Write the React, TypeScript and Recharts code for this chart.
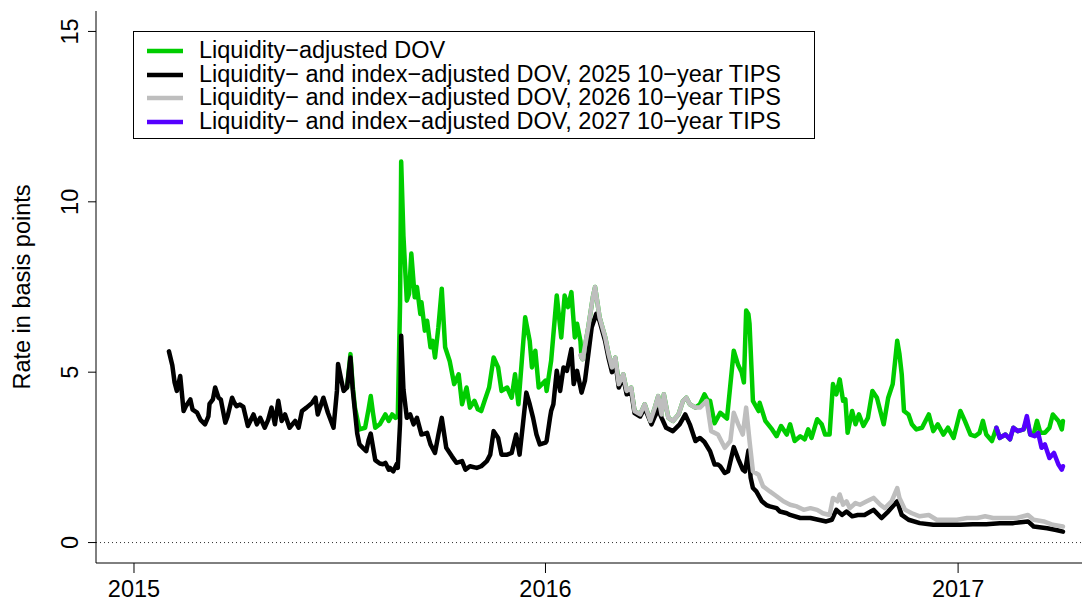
import React from 'react';
import { LineChart, Line, XAxis, YAxis, ReferenceLine } from 'recharts';

// Days since 1 Jan 2015 and rates in basis points, one pair of arrays per series.
const greenDays = [
  189, 192, 194, 196, 200, 205, 208, 210, 212, 214, 218, 223, 226, 229, 232, 234, 236, 237, 239, 242,
  244, 246, 249, 251, 254, 255, 258, 260, 263, 265, 267, 270, 273, 276, 280, 284, 288, 291, 295, 298,
  302, 305, 308, 311, 315, 319, 323, 326, 331, 335, 338, 341, 344, 347, 351, 353, 356, 359, 365, 366,
  370, 375, 379, 382, 385, 388, 391, 393, 396, 397, 398, 403, 407, 409, 413, 418, 421, 424, 427, 430,
  434, 437, 441, 444, 449, 453, 458, 462, 465, 468, 470, 474, 478, 483, 487, 490, 493, 498, 502, 506,
  509, 511, 515, 520, 526, 532, 536, 539, 541, 543, 545, 546, 549, 554, 555, 560, 566, 570, 574, 579,
  582, 586, 591, 595, 598, 601, 606, 610, 613, 617, 620, 623, 626, 629, 631, 633, 637, 640, 643, 647,
  651, 655, 659, 665, 669, 673, 677, 679, 681, 683, 687, 690, 694, 699, 705, 709, 713, 718, 722, 727,
  733, 737, 742, 746, 750, 753, 756, 761, 765, 768, 773, 777, 780, 784, 789, 792, 795, 798, 801, 804,
  808, 812, 815, 820, 823, 824,
];
const greenValues = [
  4.55, 5.53, 4.6, 3.96, 3.32, 3.37, 3.9, 4.3, 3.8, 3.37, 3.47, 3.76, 3.57, 3.76, 3.66, 3.7, 7.0, 11.18, 9.0, 7.1,
  7.3, 8.48, 7.2, 7.5, 6.71, 7.05, 6.22, 6.51, 5.73, 5.92, 5.43, 6.32, 7.45, 5.73, 5.33, 4.65, 4.94, 4.06, 4.55, 3.96,
  4.16, 3.91, 3.86, 4.16, 4.55, 5.43, 5.14, 4.45, 4.55, 4.25, 4.94, 4.06, 5.33, 6.61, 5.92, 5.14, 5.63, 4.55, 4.75, 4.45,
  5.33, 7.25, 6.02, 7.25, 6.91, 7.35, 6.02, 6.42, 5.92, 5.43, 5.38, 6.32, 7.2, 7.5, 6.61, 6.02, 5.53, 5.14, 5.43, 4.65,
  4.94, 4.45, 4.55, 3.86, 3.76, 4.06, 3.57, 3.96, 4.3, 3.76, 4.35, 3.66, 3.57, 3.76, 4.16, 4.25, 4.06, 3.96, 4.06, 4.35,
  4.16, 4.16, 3.5, 3.81, 3.64, 5.63, 5.2, 5.0, 4.7, 6.81, 6.7, 6.42, 4.16, 3.86, 4.1, 3.57, 3.32, 3.12, 3.42, 3.17,
  3.47, 2.98, 3.12, 3.03, 3.32, 3.07, 3.62, 3.47, 3.17, 3.17, 4.65, 4.35, 4.79, 4.16, 4.2, 3.22, 3.86, 3.47, 3.76, 3.42,
  3.66, 4.45, 4.25, 3.47, 4.25, 4.65, 5.92, 5.53, 4.94, 3.86, 3.76, 3.47, 3.32, 3.37, 3.76, 3.27, 3.47, 3.17, 3.37, 3.07,
  3.86, 3.57, 3.17, 3.12, 3.22, 3.57, 3.17, 2.98, 3.37, 3.07, 3.17, 3.03, 3.37, 3.27, 3.32, 3.6, 3.17, 3.17, 3.57, 3.22,
  3.22, 3.37, 3.76, 3.57, 3.32, 3.57,
];

const tips2025Days = [
  31, 34, 36, 38, 41, 44, 46, 50, 52, 56, 59, 63, 66, 67, 70, 72, 75, 77, 81, 83,
  87, 89, 91, 94, 97, 101, 106, 109, 112, 116, 119, 122, 125, 128, 131, 134, 138, 143, 146, 149,
  153, 158, 161, 163, 168, 172, 177, 180, 181, 184, 186, 189, 192, 194, 198, 200, 203, 206, 208, 210,
  214, 218, 221, 223, 226, 227, 230, 233, 234, 236, 237, 239, 242, 245, 248, 251, 255, 260, 263, 267,
  270, 273, 277, 282, 286, 291, 294, 298, 304, 308, 313, 316, 319, 323, 326, 331, 335, 339, 342, 345,
  348, 351, 354, 357, 360, 365, 366, 369, 370, 372, 375, 378, 381, 384, 388, 390, 393, 397, 400, 403,
  406, 410, 413, 418, 421, 424, 427, 430, 434, 437, 441, 444, 449, 453, 459, 462, 465, 468, 472, 478,
  484, 489, 493, 498, 502, 506, 511, 515, 518, 520, 524, 527, 532, 536, 540, 542, 545, 547, 549, 552,
  557, 561, 564, 570, 573, 579, 582, 591, 600, 607, 614, 619, 623, 628, 632, 637, 642, 648, 656, 663,
  669, 677, 681, 687, 697, 709, 721, 733, 744, 756, 768, 780, 793, 798, 810, 818, 824,
];
const tips2025Values = [
  5.61, 5.2, 4.7, 4.45, 4.89, 3.86, 4.0, 4.2, 3.9, 3.81, 3.6, 3.47, 3.7, 4.07, 4.2, 4.55, 4.25, 4.2, 3.52, 3.7,
  4.25, 4.1, 4.0, 4.05, 3.98, 3.42, 3.76, 3.47, 3.66, 3.37, 3.6, 3.96, 3.47, 4.16, 3.57, 3.76, 3.37, 3.57, 3.37, 3.86,
  3.96, 4.1, 4.25, 3.76, 4.25, 3.81, 3.37, 4.45, 5.24, 4.75, 4.45, 4.55, 5.43, 4.5, 3.2, 2.88, 2.78, 2.68, 3.0, 3.2,
  2.42, 2.32, 2.3, 2.34, 2.14, 2.19, 2.09, 2.3, 2.19, 3.5, 6.07, 4.5, 3.66, 3.76, 3.47, 3.66, 3.17, 3.22, 2.88, 2.63,
  3.17, 3.66, 2.78, 2.53, 2.34, 2.39, 2.14, 2.24, 2.19, 2.24, 2.39, 2.58, 3.27, 3.07, 2.58, 2.58, 2.63, 3.17, 2.58, 3.47,
  4.4, 4.06, 3.66, 3.17, 2.88, 2.93, 2.98, 3.66, 3.86, 4.06, 5.04, 4.45, 5.14, 5.04, 5.68, 4.65, 5.04, 4.4, 4.75, 5.53,
  6.32, 6.71, 6.5, 5.9, 5.4, 5.0, 5.3, 4.55, 4.85, 4.35, 4.45, 3.8, 3.7, 3.95, 3.47, 3.7, 3.9, 3.66, 3.37, 3.27,
  3.47, 3.76, 3.47, 2.98, 3.07, 2.95, 2.68, 2.29, 2.29, 2.24, 2.04, 2.09, 2.8, 2.45, 2.14, 2.09, 2.7, 1.9, 1.6, 1.5,
  1.21, 1.1, 1.06, 1.01, 0.91, 0.86, 0.81, 0.72, 0.72, 0.67, 0.62, 0.67, 0.96, 0.81, 0.91, 0.77, 0.81, 0.81, 0.96, 0.72,
  0.91, 1.21, 0.81, 0.67, 0.57, 0.52, 0.52, 0.52, 0.54, 0.54, 0.57, 0.57, 0.62, 0.47, 0.42, 0.37, 0.32,
];

const tips2026Days = [
  396, 398, 403, 407, 409, 413, 418, 421, 424, 427, 430, 434, 437, 441, 444, 449, 453, 458, 462, 465,
  468, 470, 474, 478, 483, 487, 490, 493, 498, 502, 508, 512, 518, 524, 529, 532, 536, 540, 543, 546,
  549, 554, 558, 564, 570, 576, 582, 588, 594, 600, 606, 611, 617, 620, 624, 626, 629, 632, 635, 640,
  644, 650, 656, 662, 666, 672, 677, 679, 684, 690, 697, 705, 712, 721, 730, 739, 748, 755, 762, 771,
  783, 793, 798, 807, 815, 824,
];
const tips2026Values = [
  5.5, 5.38, 6.32, 7.2, 7.5, 6.61, 6.02, 5.53, 5.14, 5.43, 4.65, 4.94, 4.45, 4.55, 3.86, 3.76, 4.06, 3.57, 3.96, 4.3,
  3.76, 4.35, 3.66, 3.57, 3.76, 4.16, 4.25, 4.06, 3.96, 3.96, 4.16, 3.27, 3.17, 2.78, 2.98, 3.81, 3.47, 3.17, 3.96, 2.98,
  2.09, 1.99, 1.65, 1.5, 1.36, 1.21, 1.11, 1.06, 0.96, 1.01, 0.96, 0.86, 0.81, 1.31, 1.21, 1.41, 1.11, 1.21, 1.01, 1.16,
  1.11, 1.21, 1.31, 1.11, 1.01, 1.21, 1.6, 1.31, 0.96, 0.86, 0.77, 0.81, 0.67, 0.67, 0.67, 0.72, 0.72, 0.77, 0.72, 0.72,
  0.72, 0.81, 0.67, 0.62, 0.52, 0.47,
];

const tips2027Days = [765, 768, 773, 777, 780, 784, 789, 792, 795, 799, 802, 805, 808, 812, 816, 820, 823, 824];
const tips2027Values = [3.37, 3.07, 3.17, 3.03, 3.37, 3.27, 3.32, 3.71, 3.17, 3.12, 3.22, 2.78, 2.88, 2.48, 2.63, 2.29, 2.14, 2.24];

const yearTickDays = [0, 365, 731];
const yearTickLabels = ['2015', '2016', '2017'];
const rateTicks = [0, 5, 10, 15];

const seriesNames = [
  'Liquidity\u2212adjusted DOV',
  'Liquidity\u2212 and index\u2212adjusted DOV, 2025 10\u2212year TIPS',
  'Liquidity\u2212 and index\u2212adjusted DOV, 2026 10\u2212year TIPS',
  'Liquidity\u2212 and index\u2212adjusted DOV, 2027 10\u2212year TIPS',
];
const seriesColors = ['#00CD00', '#000000', '#BEBEBE', '#5500FF'];

const toRows = (days: number[], values: number[]) => days.map((day, i) => ({ day, v: values[i] }));

const series = [
  toRows(greenDays, greenValues),
  toRows(tips2025Days, tips2025Values),
  toRows(tips2026Days, tips2026Values),
  toRows(tips2027Days, tips2027Values),
];

const X_DOMAIN: [number, number] = [-33.7, 840.9];
const Y_DOMAIN: [number, number] = [-0.6, 15.6];
const FONT = '"Liberation Sans", Arial, Helvetica, sans-serif';
const FONT_SIZE = 23.5;

const RateTick = (props: any) => {
  const { x, y, payload } = props;
  return (
    <text
      x={x}
      y={y}
      transform={`rotate(-90, ${x}, ${y})`}
      textAnchor="middle"
      fontFamily={FONT}
      fontSize={FONT_SIZE}
      fill="#000"
    >
      {payload.value}
    </text>
  );
};

const RateTitle = (props: any) => {
  const vb = props.viewBox || { x: 0, y: 0, width: 0, height: 0 };
  const cy = vb.y + vb.height / 2;
  const cx = 30;
  return (
    <text
      x={cx}
      y={cy}
      transform={`rotate(-90, ${cx}, ${cy})`}
      textAnchor="middle"
      fontFamily={FONT}
      fontSize={FONT_SIZE}
      fill="#000"
    >
      Rate in basis points
    </text>
  );
};

const LegendBox = () => (
  <div
    style={{
      position: 'absolute',
      left: 133,
      top: 31,
      width: 682,
      height: 108,
      boxSizing: 'border-box',
      border: '1px solid #000',
      background: '#fff',
      padding: '7px 0 0 13px',
      fontFamily: FONT,
      fontSize: FONT_SIZE,
      lineHeight: '23.7px',
      color: '#000',
    }}
  >
    {seriesNames.map((name, i) => (
      <div key={name} style={{ display: 'flex', alignItems: 'center', height: 23.7, whiteSpace: 'nowrap' }}>
        <svg width={36} height={10} style={{ marginRight: 16, flex: 'none' }}>
          <line x1={0} y1={5} x2={36} y2={5} stroke={seriesColors[i]} strokeWidth={4.5} />
        </svg>
        <span>{name}</span>
      </div>
    ))}
  </div>
);

export default function App() {
  return (
    <div style={{ position: 'absolute', left: 0, top: 0, width: 1085, height: 602, background: '#fff' }}>
      <LineChart width={1085} height={602} margin={{ top: 11, right: 3, bottom: 0, left: 0 }}>
        <XAxis
          type="number"
          dataKey="day"
          domain={X_DOMAIN}
          allowDataOverflow
          ticks={yearTickDays}
          tickFormatter={(d: number) => yearTickLabels[yearTickDays.indexOf(d)]}
          height={39}
          tickSize={10}
          tickMargin={7}
          axisLine={{ stroke: '#000', strokeWidth: 1 }}
          tickLine={{ stroke: '#000', strokeWidth: 1 }}
          tick={{ fill: '#000', fontFamily: FONT, fontSize: FONT_SIZE }}
          interval={0}
        />
        <XAxis
          xAxisId="top"
          orientation="top"
          type="number"
          dataKey="day"
          domain={X_DOMAIN}
          allowDataOverflow
          height={0}
          tick={false}
          tickLine={false}
          axisLine={{ stroke: '#000', strokeWidth: 1 }}
        />
        <YAxis
          type="number"
          domain={Y_DOMAIN}
          allowDataOverflow
          ticks={rateTicks}
          width={96}
          tickSize={8}
          tickMargin={10}
          axisLine={{ stroke: '#000', strokeWidth: 1 }}
          tickLine={{ stroke: '#000', strokeWidth: 1 }}
          tick={<RateTick />}
          interval={0}
          label={{ content: (p: any) => <RateTitle {...p} /> }}
        />
        <YAxis
          yAxisId="right"
          orientation="right"
          type="number"
          domain={Y_DOMAIN}
          allowDataOverflow
          width={0}
          tick={false}
          tickLine={false}
          axisLine={{ stroke: '#000', strokeWidth: 1 }}
        />
        <ReferenceLine y={0} stroke="#333" strokeWidth={1} strokeDasharray="1 3" />
        {series.map((rows, i) => (
          <Line
            key={seriesNames[i]}
            data={rows}
            dataKey="v"
            name={seriesNames[i]}
            type="linear"
            stroke={seriesColors[i]}
            strokeWidth={4.5}
            strokeLinejoin="round"
            strokeLinecap="round"
            dot={false}
            activeDot={false}
            isAnimationActive={false}
          />
        ))}
      </LineChart>
      <LegendBox />
    </div>
  );
}
